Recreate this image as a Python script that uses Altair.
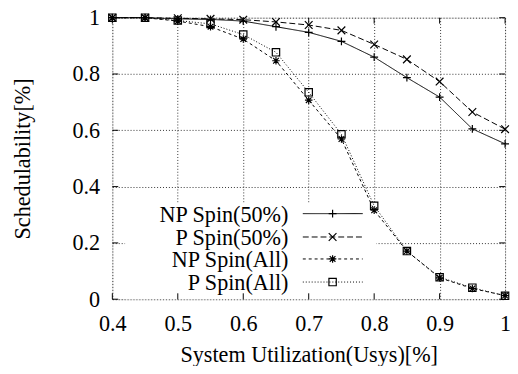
import altair as alt
import pandas as pd

x_vals = [0.4, 0.45, 0.5, 0.55, 0.6, 0.65, 0.7, 0.75, 0.8, 0.85, 0.9, 0.95, 1.0]
series_names = ["NP Spin(50%)", "P Spin(50%)", "NP Spin(All)", "P Spin(All)"]
np_spin_50 = [1.0, 1.0, 0.996, 0.994, 0.988, 0.968, 0.948, 0.916, 0.86, 0.787, 0.718, 0.605, 0.552]
p_spin_50 = [1.0, 1.0, 0.998, 0.996, 0.993, 0.985, 0.974, 0.955, 0.905, 0.852, 0.773, 0.665, 0.604]
np_spin_all = [1.0, 1.0, 0.988, 0.968, 0.924, 0.847, 0.707, 0.569, 0.316, 0.171, 0.076, 0.038, 0.013]
p_spin_all = [1.0, 1.0, 0.99, 0.978, 0.94, 0.877, 0.735, 0.586, 0.332, 0.171, 0.078, 0.041, 0.012]
x_ticks = [0.4, 0.5, 0.6, 0.7, 0.8, 0.9, 1.0]
y_ticks = [0, 0.2, 0.4, 0.6, 0.8, 1.0]

FONT = "Liberation Serif, Times New Roman, Times, serif"
FS = 22.5
W, H = 399, 286
TL = 6

rows = []
for name, vals in zip(series_names, [np_spin_50, p_spin_50, np_spin_all, p_spin_all]):
    for xv, yv in zip(x_vals, vals):
        rows.append({"series": name, "x": xv, "y": yv})
df = pd.DataFrame(rows)

dashes = [[1, 0], [6, 3], [3, 3], [1, 2]]
plus_path = "M-1,0L1,0M0,-1L0,1"
x_path = "M-1,-1L1,1M-1,1L1,-1"
star_path = "M-1,0L1,0M0,-1L0,1M-0.75,-0.75L0.75,0.75M-0.75,0.75L0.75,-0.75"
shapes = [plus_path, x_path, star_path, "square"]
sizes = [64, 56, 56, 50]

xscale = alt.Scale(domain=[0.4, 1.0], nice=False, zero=False)
yscale = alt.Scale(domain=[0, 1.0], nice=False)

xaxis = alt.Axis(values=x_ticks, format="~g", title="System Utilization(Usys)[%]",
                 labelFont=FONT, labelFontSize=FS, titleFont=FONT, titleFontSize=FS,
                 titleFontWeight="normal", labelColor="black", titleColor="black",
                 ticks=False, domain=False, grid=True, gridColor="#333", gridDash=[1, 2],
                 labelPadding=14, titlePadding=9, labelFlush=False)
yaxis = alt.Axis(values=y_ticks, format="~g", title="Schedulability[%]",
                 labelFont=FONT, labelFontSize=FS, titleFont=FONT, titleFontSize=FS,
                 titleFontWeight="normal", labelColor="black", titleColor="black",
                 ticks=False, domain=False, grid=True, gridColor="#333", gridDash=[1, 2],
                 labelPadding=13, titlePadding=38, labelFlush=False)

base = alt.Chart(df)

grid = alt.Chart(pd.DataFrame({"x": [0.4], "y": [0]})).mark_point(opacity=0).encode(
    x=alt.X("x:Q", scale=xscale, axis=xaxis),
    y=alt.Y("y:Q", scale=yscale, axis=yaxis),
)

# inward tick marks on all four sides
xt = pd.DataFrame({"t": x_ticks})
yt = pd.DataFrame({"t": y_ticks})
tick_bottom = alt.Chart(xt).mark_rule(color="black", strokeWidth=1).encode(
    x=alt.X("t:Q", scale=xscale), y=alt.value(H), y2=alt.value(H - TL))
tick_top = alt.Chart(xt).mark_rule(color="black", strokeWidth=1).encode(
    x=alt.X("t:Q", scale=xscale), y=alt.value(0), y2=alt.value(TL))
tick_left = alt.Chart(yt).mark_rule(color="black", strokeWidth=1).encode(
    y=alt.Y("t:Q", scale=yscale), x=alt.value(0), x2=alt.value(TL))
tick_right = alt.Chart(yt).mark_rule(color="black", strokeWidth=1).encode(
    y=alt.Y("t:Q", scale=yscale), x=alt.value(W), x2=alt.value(W - TL))

# legend
leg_y = [0.304, 0.221, 0.143, 0.061]
leg = pd.DataFrame({
    "series": series_names,
    "ly": leg_y,
    "tx": [0.669] * 4,
    "lx1": [0.691] * 4,
    "lx2": [0.7825] * 4,
    "mx": [0.7365] * 4,
})

box = alt.Chart(pd.DataFrame({"a": [0.4195], "b": [0.8035], "c": [0.0], "d": [0.343]})).mark_rect(
    fill="white").encode(
    x=alt.X("a:Q", scale=xscale), x2="b:Q",
    y=alt.Y("c:Q", scale=yscale), y2="d:Q")

dash_enc = alt.StrokeDash("series:N", scale=alt.Scale(domain=series_names, range=dashes), legend=None)
shape_enc = alt.Shape("series:N", scale=alt.Scale(domain=series_names, range=shapes), legend=None)
size_enc = alt.Size("series:N", scale=alt.Scale(domain=series_names, range=sizes), legend=None)

lines = base.mark_line(color="black", strokeWidth=1).encode(
    x=alt.X("x:Q", scale=xscale),
    y=alt.Y("y:Q", scale=yscale),
    strokeDash=dash_enc,
    detail="series:N",
)
points = base.mark_point(color="black", filled=False, strokeWidth=1.2, opacity=1).encode(
    x=alt.X("x:Q", scale=xscale),
    y=alt.Y("y:Q", scale=yscale),
    shape=shape_enc,
    size=size_enc,
)

leg_text = alt.Chart(leg).mark_text(align="right", baseline="middle", font=FONT, fontSize=FS,
                                     color="black", dy=1).encode(
    x=alt.X("tx:Q", scale=xscale), y=alt.Y("ly:Q", scale=yscale), text="series:N")
leg_lines = alt.Chart(leg).mark_rule(color="black", strokeWidth=1).encode(
    x=alt.X("lx1:Q", scale=xscale), x2="lx2:Q", y=alt.Y("ly:Q", scale=yscale),
    strokeDash=dash_enc)
leg_pts = alt.Chart(leg).mark_point(color="black", filled=False, strokeWidth=1.2, opacity=1).encode(
    x=alt.X("mx:Q", scale=xscale), y=alt.Y("ly:Q", scale=yscale),
    shape=shape_enc, size=size_enc)

chart = alt.layer(grid, box, tick_bottom, tick_top, tick_left, tick_right,
                  lines, points, leg_text, leg_lines, leg_pts).properties(
    width=W, height=H,
    autosize=alt.AutoSizeParams(type="none"),
    padding={"left": 106, "top": 7, "right": 5, "bottom": 65},
).configure_view(stroke="black", strokeWidth=1.5).configure(background="white")

chart.save("out.html", embed_options={"renderer": "svg", "actions": False})
